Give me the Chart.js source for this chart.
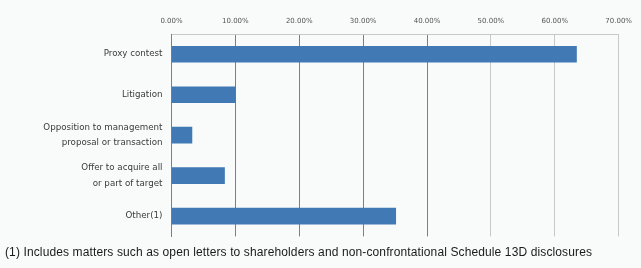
<!DOCTYPE html>
<html>
<head>
<meta charset="utf-8">
<script src="https://cdn.jsdelivr.net/npm/chart.js"></script>
<style>
  html, body { margin: 0; padding: 0; background: #f8fbf9; }
  #wrap { position: relative; width: 641px; height: 268px; }
  #chartBox { position: absolute; left: 0; top: 0; width: 641px; height: 253px; }
  #footnote {
    position: absolute; left: 5px; top: 245px;
    font-family: "Liberation Sans", Arial, sans-serif; font-size: 12px; color: #1a1a1a;
    letter-spacing: 0.12px; white-space: nowrap;
  }
</style>
</head>
<body>
<div id="wrap">
  <div id="chartBox"><canvas id="barChart"></canvas></div>
  <div id="footnote">(1) Includes matters such as open letters to shareholders and non-confrontational Schedule 13D disclosures</div>
</div>
<script>
// categories and values (share of campaigns, %)
let categories = [
  "Proxy contest",
  "Litigation",
  ["Opposition to management", "proposal or transaction"],
  ["Offer to acquire all", "or part of target"],
  "Other(1)"
];
let shares = [63.4, 10.0, 3.2, 8.3, 35.1];
let tickValues = [0, 10, 20, 30, 40, 50, 60, 70];

var myChart;
function createChart() {
  const ctx = document.getElementById("barChart");
  myChart = new Chart(ctx, {
    type: "bar",
    data: {
      labels: categories,
      datasets: [{
        data: shares,
        backgroundColor: "#4179b5",
        borderWidth: 0,
        barThickness: 16
      }]
    },
    options: {
      indexAxis: "y",
      responsive: true,
      maintainAspectRatio: false,
      animation: false,
      layout: { padding: { top: 14, right: 19, bottom: 4, left: 0 } },
      plugins: { legend: { display: false }, tooltip: { enabled: false } },
      scales: {
        x: {
          position: "top",
          min: 0,
          max: 70,
          afterBuildTicks: function (scale) {
            scale.ticks = tickValues.map(v => ({ value: v }));
          },
          afterFit: function (scale) { scale.height = 20; },
          ticks: {
            padding: 9,
            font: { family: "DejaVu Sans", size: 7 },
            color: "#555555",
            callback: v => v.toFixed(2) + "%"
          },
          grid: {
            drawTicks: false,
            // darker lines for the first few gridlines, lighter after
            color: c => (c.tick && c.tick.value <= 40) ? "#7f7f7f" : "#c8c8c8",
            lineWidth: 1
          },
          border: { color: "#c8c8c8" }
        },
        y: {
          afterFit: function (scale) { scale.width = 171.5; },
          ticks: {
            padding: 9,
            font: { family: "DejaVu Sans", size: 8.7, lineHeight: 1.75 },
            color: "#3a3a3a"
          },
          grid: { display: false, drawTicks: false },
          border: { color: "#7f7f7f" }
        }
      }
    }
  });
}

createChart();
</script>
</body>
</html>
